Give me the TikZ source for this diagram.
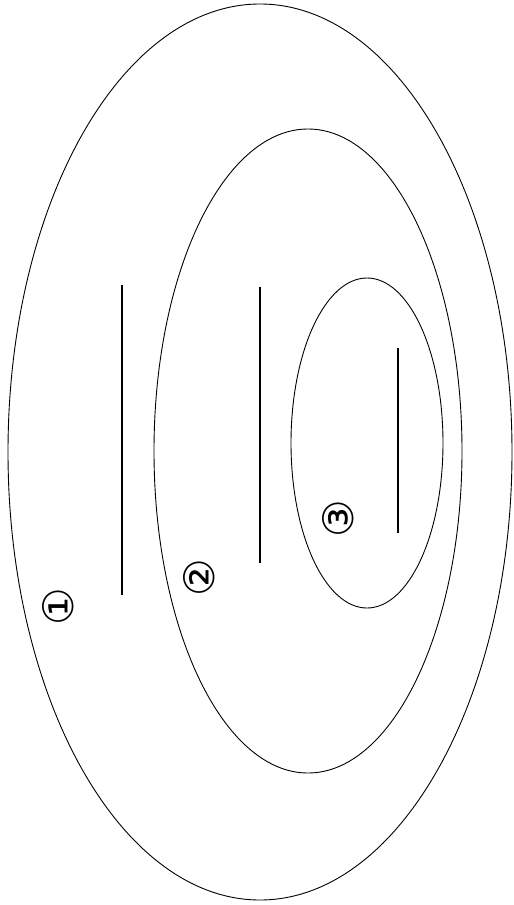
\documentclass[tikz,border=0pt]{standalone}
\usepackage{fontspec}
\newfontfamily\circfont{DejaVu Sans}
\usetikzlibrary{positioning}

\begin{document}
\begin{tikzpicture}[x=1pt, y=-1pt,
  ring/.style={draw, line width=0.9pt},
  blank/.style={line width=1.1pt},
  num/.style={font=\circfont\fontsize{42}{42}\selectfont, rotate=90, inner sep=0pt}]
  \useasboundingbox (0,0) rectangle (514,905);
  % the three rings
  \draw[ring] (260,452) ellipse [x radius=252, y radius=448];
  \draw[ring] (308,451) ellipse [x radius=154, y radius=322];
  \draw[ring] (367,443) ellipse [x radius=76, y radius=165];
  % blank lines
  \draw[blank] (122,285) -- (122,595);
  \draw[blank] (260,287) -- (260,563);
  \draw[blank] (398,348) -- (398,533);
  % numbers
  \node[num] (n1) at (58,607) {①};
  \node[num] (n2) at (199,578) {②};
  \node[num] (n3) at (338,519) {③};
\end{tikzpicture}
\end{document}
